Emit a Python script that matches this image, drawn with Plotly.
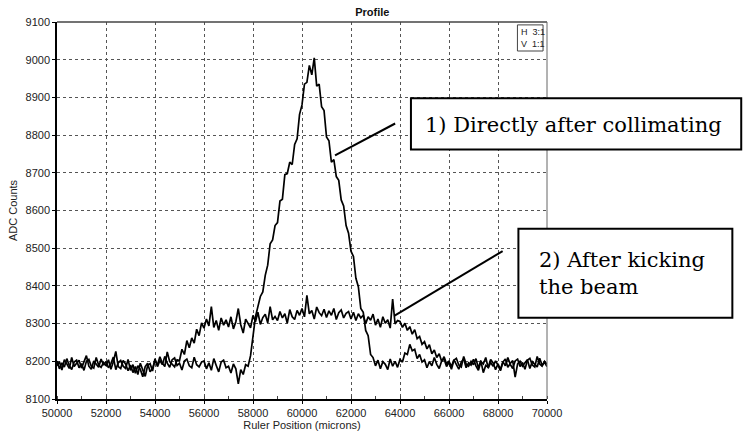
import plotly.graph_objects as go

# Sample positions (microns) every 100 from 50000 to 70000
x_start = 50000
x_step = 100

# 1) Directly after collimating
collimated = [
    8201, 8180, 8196, 8185, 8207, 8189, 8178, 8198, 8203, 8183,
    8194, 8176, 8200, 8205, 8187, 8182, 8210, 8190, 8184, 8197,
    8188, 8204, 8179, 8199, 8226, 8186, 8181, 8202, 8193, 8175,
    8190, 8170, 8186, 8165, 8195, 8178, 8160, 8189, 8194, 8174,
    8207, 8186, 8202, 8191, 8213, 8195, 8184, 8204, 8209, 8189,
    8195, 8177, 8201, 8206, 8188, 8183, 8211, 8191, 8185, 8198,
    8201, 8180, 8196, 8176, 8207, 8189, 8172, 8198, 8203, 8183,
    8187, 8169, 8193, 8180, 8140, 8178, 8165, 8191, 8187,
    8215,
    8262,
    8318, 8345, 8372, 8384, 8428, 8455, 8512, 8522, 8560,
    8568, 8625, 8630, 8695, 8698, 8728, 8722, 8775, 8790, 8855,
    8880, 8935, 8940, 8985, 8960, 9005, 8930, 8935, 8875, 8865,
    8795, 8785, 8728, 8735, 8690, 8680, 8628, 8612, 8560, 8540,
    8492, 8478, 8420, 8398, 8340, 8330, 8282, 8268, 8218, 8210,
    8188, 8203, 8180, 8199, 8192, 8178, 8206, 8187, 8200, 8184,
    8205, 8198, 8222, 8218, 8245, 8228, 8232, 8207, 8218, 8198,
    8204, 8183, 8199, 8188, 8210, 8192, 8181, 8201, 8206, 8186,
    8197, 8179, 8203, 8208, 8190, 8185, 8213, 8193, 8187, 8200,
    8191, 8207, 8182, 8202, 8170, 8189, 8184, 8205, 8196, 8178,
    8193, 8178, 8199, 8188, 8210, 8192, 8181, 8201, 8206, 8186,
    8197, 8179, 8203, 8208, 8190, 8185, 8213, 8193, 8187, 8200, 8192,
]

# 2) After kicking the beam
kicked = [
    8188, 8199, 8177, 8204, 8193, 8181, 8210, 8186, 8195, 8203,
    8182, 8198, 8215, 8187, 8179, 8201, 8191, 8184, 8206, 8190,
    8199, 8183, 8194, 8211, 8178, 8196, 8202, 8187, 8181, 8205,
    8176, 8191, 8168, 8188, 8179, 8159, 8186, 8195, 8172, 8181,
    8203, 8190, 8212, 8195, 8186, 8225, 8199, 8191,
    8185, 8204,
    8202, 8232, 8218, 8255, 8236, 8262, 8248, 8285, 8268, 8302,
    8288, 8312, 8294, 8345, 8290, 8308, 8282, 8315, 8296, 8310,
    8291, 8318, 8286, 8305, 8340, 8297, 8275, 8312, 8301, 8289,
    8322, 8305, 8330, 8298, 8316, 8325, 8302, 8345, 8310, 8319,
    8308, 8332, 8315, 8326, 8301, 8337, 8318, 8311, 8335, 8322,
    8340, 8318, 8375, 8326, 8335, 8312, 8344, 8329, 8321, 8338,
    8316, 8334, 8322, 8340, 8311, 8329, 8336, 8315, 8327, 8332,
    8312, 8330, 8308, 8326, 8315,
    8322, 8300, 8318, 8309, 8325,
    8296, 8312, 8290, 8318, 8301, 8310, 8288, 8365, 8299, 8308,
    8306, 8290, 8301, 8282, 8292,
    8272, 8284, 8260, 8266, 8245,
    8252, 8233, 8244, 8220, 8230, 8210, 8220, 8200, 8212, 8193,
    8200, 8186, 8204, 8192, 8179, 8198, 8207, 8183, 8196, 8190,
    8205, 8188, 8176, 8199, 8193, 8210, 8182, 8197, 8187, 8201,
    8190, 8175, 8198, 8206, 8184, 8194, 8202, 8158, 8193, 8200,
    8187, 8196, 8204, 8181, 8199, 8192, 8185, 8208, 8190, 8197, 8186,
]

x_vals = [x_start + x_step * i for i in range(len(collimated))]
x_vals2 = [x_start + x_step * i for i in range(len(kicked))]

x_ticks = [50000, 52000, 54000, 56000, 58000, 60000, 62000, 64000, 66000, 68000, 70000]
y_ticks = [8100, 8200, 8300, 8400, 8500, 8600, 8700, 8800, 8900, 9000, 9100]

W, H = 746, 439
L, R, T, B = 50, 547, 22, 412


def px(xp):
    return (xp - L) / (R - L)


def py(yp):
    return (B - yp) / (B - T)


fig = go.Figure()
fig.add_trace(go.Scatter(x=x_vals2, y=kicked, mode="lines",
                         line=dict(color="black", width=1.7), showlegend=False))
fig.add_trace(go.Scatter(x=x_vals, y=collimated, mode="lines",
                         line=dict(color="black", width=1.7), showlegend=False))

SANS = "Liberation Sans"
SERIF = "DejaVu Serif"
axis_font = dict(family=SANS, size=11, color="#222")

fig.update_layout(
    width=W, height=H,
    margin=dict(l=L, r=W - R, t=T, b=H - B),
    paper_bgcolor="white", plot_bgcolor="white",
    showlegend=False,
    title=dict(text="<b>Profile</b>", x=px(298), xanchor="center",
               y=1 - 12 / H, yanchor="middle",
               font=dict(family=SANS, size=11, color="#111")),
    xaxis=dict(range=[50000, 70000], tickvals=x_ticks, ticktext=[str(v) for v in x_ticks],
               showgrid=True, gridcolor="#555", griddash="dot", gridwidth=1,
               showline=True, linecolor="black", linewidth=1.5,
               ticks="outside", ticklen=3, tickcolor="black",
               tickfont=axis_font, zeroline=False,
               minor=dict(dtick=1000, ticks="inside", ticklen=3, tickcolor="#444", showgrid=False),
               title=dict(text="Ruler Position (microns)", font=axis_font, standoff=0)),
    yaxis=dict(range=[8100, 9100], tickvals=y_ticks, ticktext=[str(v) for v in y_ticks],
               showgrid=True, gridcolor="#555", griddash="dot", gridwidth=1,
               showline=True, linecolor="black", linewidth=1.5,
               ticks="outside", ticklen=3, tickcolor="black",
               tickfont=axis_font, zeroline=False,
               title=dict(text="ADC Counts", font=axis_font, standoff=6)),
)

shapes = []
# Top and right frame lines
shapes.append(dict(type="line", xref="paper", yref="paper", x0=0, x1=1, y0=1, y1=1,
                   line=dict(color="#444", width=1.5)))
shapes.append(dict(type="line", xref="paper", yref="paper", x0=1, x1=1, y0=0, y1=1,
                   line=dict(color="#666", width=1)))
# Scale inset box
shapes.append(dict(type="rect", xref="paper", yref="paper",
                   x0=px(517), x1=px(543), y0=py(52), y1=py(25),
                   line=dict(color="#444", width=1), fillcolor="white"))
# Callout boxes
shapes.append(dict(type="rect", xref="paper", yref="paper",
                   x0=px(409), x1=px(744), y0=py(154), y1=py(101),
                   line=dict(color="black", width=2), fillcolor="white"))
shapes.append(dict(type="rect", xref="paper", yref="paper",
                   x0=px(518), x1=px(735), y0=py(328), y1=py(236),
                   line=dict(color="black", width=2), fillcolor="white"))
# Pointer lines
shapes.append(dict(type="line", xref="paper", yref="paper",
                   x0=px(393), y0=py(127), x1=px(332), y1=py(160),
                   line=dict(color="black", width=2)))
shapes.append(dict(type="line", xref="paper", yref="paper",
                   x0=px(502), y0=py(259), x1=px(392), y1=py(326),
                   line=dict(color="black", width=2)))
fig.update_layout(shapes=shapes)

serif = dict(family=SERIF, size=21, color="black")
fig.add_annotation(xref="paper", yref="paper", x=px(421), y=py(129),
                   xanchor="left", yanchor="middle", showarrow=False,
                   text="1) Directly after collimating", font=serif)
fig.add_annotation(xref="paper", yref="paper", x=px(537), y=py(282),
                   xanchor="left", yanchor="middle", showarrow=False, align="left",
                   text="2) After kicking<br>the beam", font=serif)
fig.add_annotation(xref="paper", yref="paper", x=px(519), y=py(38.5),
                   xanchor="left", yanchor="middle", showarrow=False, align="left",
                   text="H  3:1<br>V  1:1",
                   font=dict(family=SANS, size=9, color="#222"))

fig.write_html("out.html")
